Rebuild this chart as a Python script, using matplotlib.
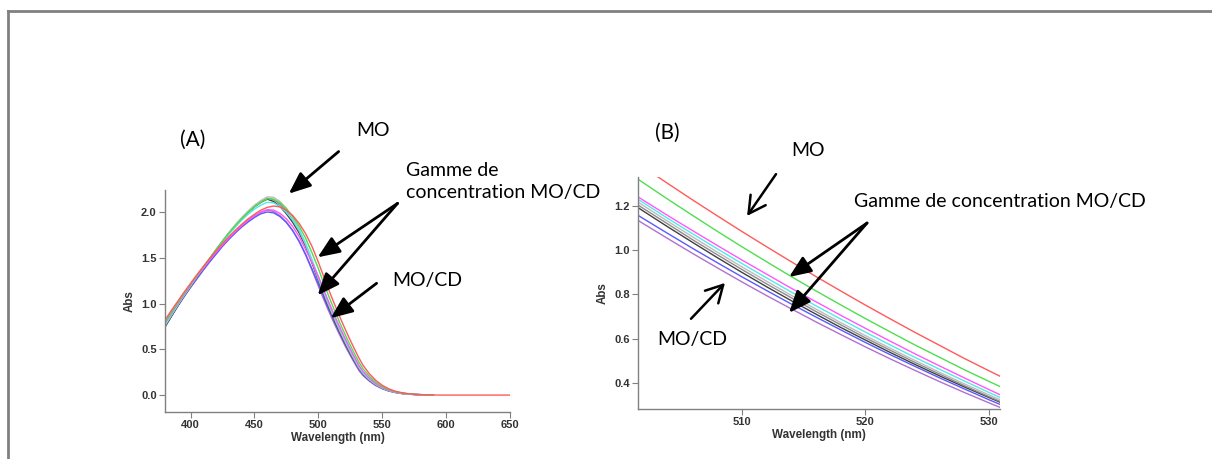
import matplotlib.pyplot as plt
from matplotlib.lines import Line2D

# wavelength grid (nm), shared by all spectra
wl = ([380, 385, 390, 395, 400, 405, 410, 415, 420, 425, 430, 435, 440, 445,
       450, 455, 460, 465, 470, 475, 480, 485, 490, 495, 500]
      + [502, 504, 506, 508, 510, 512, 514, 516, 518, 520, 522, 524, 526, 528,
         530, 532]
      + [535, 540, 545, 550, 555, 560, 565, 570, 575, 580, 585, 590])

# MO (red) was recorded further, flat zero after 590
red_tail_wl = [595, 600, 605, 610, 615, 620, 625, 630, 635, 640, 645, 650]
red_tail = [0.0] * 12

red = ([0.82, 0.925, 1.025, 1.125, 1.22, 1.315, 1.405, 1.49, 1.575, 1.655, 1.73,
        1.80, 1.865, 1.925, 1.975, 2.02, 2.05, 2.065, 2.055, 2.02, 1.96, 1.875,
        1.765, 1.625, 1.453]
       + [1.377, 1.302, 1.228, 1.156, 1.085, 1.016, 0.948, 0.881, 0.816, 0.752,
          0.690, 0.629, 0.570, 0.511, 0.455, 0.400]
       + [0.325, 0.232, 0.160, 0.107, 0.069, 0.043, 0.027, 0.016, 0.009, 0.005,
          0.003, 0.001])
green = ([0.80, 0.905, 1.01, 1.11, 1.21, 1.305, 1.40, 1.495, 1.59, 1.68, 1.77,
          1.85, 1.925, 1.995, 2.055, 2.105, 2.145, 2.14, 2.10, 2.035, 1.95, 1.845,
          1.715, 1.555, 1.383]
         + [1.306, 1.231, 1.158, 1.086, 1.016, 0.948, 0.881, 0.816, 0.753, 0.691,
            0.631, 0.572, 0.516, 0.460, 0.407, 0.355]
         + [0.287, 0.204, 0.140, 0.094, 0.061, 0.038, 0.024, 0.014, 0.008, 0.005,
            0.003, 0.001])
magenta = ([0.79, 0.895, 1.0, 1.10, 1.20, 1.295, 1.385, 1.475, 1.56, 1.64, 1.715,
            1.785, 1.85, 1.91, 1.96, 2.0, 2.025, 2.02, 1.985, 1.925, 1.84, 1.73,
            1.59, 1.45, 1.298]
           + [1.227, 1.157, 1.089, 1.022, 0.956, 0.892, 0.828, 0.767, 0.706, 0.647,
              0.589, 0.532, 0.477, 0.423, 0.370, 0.318]
           + [0.257, 0.182, 0.125, 0.084, 0.054, 0.034, 0.021, 0.013, 0.007, 0.004,
              0.002, 0.001])
cyan = ([0.77, 0.88, 0.99, 1.095, 1.195, 1.295, 1.39, 1.485, 1.58, 1.67, 1.755,
         1.835, 1.91, 1.975, 2.03, 2.075, 2.105, 2.10, 2.06, 1.995, 1.91, 1.80,
         1.66, 1.48, 1.288]
        + [1.216, 1.144, 1.075, 1.007, 0.940, 0.875, 0.811, 0.749, 0.689, 0.630,
           0.572, 0.516, 0.462, 0.409, 0.357, 0.307]
        + [0.248, 0.176, 0.121, 0.081, 0.052, 0.033, 0.020, 0.012, 0.007, 0.004,
           0.002, 0.001])
lightgray = ([0.76, 0.875, 0.985, 1.09, 1.195, 1.295, 1.395, 1.495, 1.59, 1.685,
              1.775, 1.86, 1.94, 2.01, 2.075, 2.125, 2.165, 2.16, 2.115, 2.04,
              1.94, 1.815, 1.65, 1.47, 1.277]
             + [1.203, 1.131, 1.061, 0.992, 0.925, 0.860, 0.796, 0.734, 0.673,
                0.614, 0.557, 0.502, 0.448, 0.396, 0.346, 0.297]
             + [0.239, 0.169, 0.116, 0.078, 0.050, 0.032, 0.019, 0.011, 0.007,
                0.004, 0.002, 0.001])
gray = ([0.755, 0.87, 0.98, 1.09, 1.19, 1.29, 1.39, 1.49, 1.585, 1.68, 1.77,
         1.855, 1.93, 2.0, 2.06, 2.11, 2.15, 2.135, 2.085, 2.01, 1.91, 1.79,
         1.64, 1.46, 1.264]
        + [1.190, 1.119, 1.048, 0.980, 0.913, 0.848, 0.785, 0.723, 0.663, 0.604,
           0.548, 0.493, 0.440, 0.388, 0.338, 0.290]
        + [0.233, 0.165, 0.113, 0.076, 0.049, 0.031, 0.019, 0.011, 0.007, 0.004,
           0.002, 0.001])
black = ([0.745, 0.86, 0.975, 1.085, 1.19, 1.29, 1.39, 1.49, 1.585, 1.68, 1.77,
          1.85, 1.925, 1.995, 2.055, 2.105, 2.14, 2.115, 2.06, 1.98, 1.885, 1.77,
          1.625, 1.445, 1.252]
         + [1.178, 1.106, 1.036, 0.967, 0.900, 0.835, 0.772, 0.711, 0.651, 0.594,
            0.538, 0.484, 0.432, 0.382, 0.334, 0.287]
         + [0.230, 0.163, 0.112, 0.075, 0.048, 0.031, 0.019, 0.011, 0.007, 0.004,
            0.002, 0.001])
blue = ([0.745, 0.86, 0.97, 1.075, 1.175, 1.27, 1.365, 1.455, 1.54, 1.625, 1.70,
         1.77, 1.835, 1.89, 1.94, 1.98, 2.0, 1.99, 1.95, 1.885, 1.795, 1.68,
         1.54, 1.38, 1.214]
        + [1.144, 1.076, 1.009, 0.944, 0.880, 0.818, 0.757, 0.698, 0.640, 0.583,
           0.528, 0.475, 0.423, 0.373, 0.324, 0.277]
        + [0.223, 0.158, 0.108, 0.072, 0.047, 0.030, 0.018, 0.011, 0.006, 0.004,
           0.002, 0.001])
purple = ([0.76, 0.87, 0.975, 1.08, 1.18, 1.275, 1.37, 1.46, 1.545, 1.63, 1.71,
           1.78, 1.845, 1.905, 1.955, 1.995, 2.02, 2.005, 1.96, 1.89, 1.795, 1.675,
           1.53, 1.365, 1.191]
          + [1.121, 1.053, 0.986, 0.921, 0.857, 0.795, 0.735, 0.676, 0.619, 0.563,
             0.509, 0.457, 0.406, 0.357, 0.310, 0.264]
          + [0.212, 0.151, 0.103, 0.069, 0.044, 0.028, 0.017, 0.010, 0.006, 0.003,
             0.002, 0.001])

series = [purple, blue, black, gray, lightgray, cyan, magenta, green, red]
colors = ['#b070d0', '#5a5aff', '#404040', '#8c8c8c', '#bdbdbd', '#50eaea',
          '#ff55ff', '#50dd50', '#ff5a5a']

ticks_a = [400, 450, 500, 550, 600, 650]
yticks_a = [0.0, 0.5, 1.0, 1.5, 2.0]
ticks_b = [510, 520, 530]
yticks_b = [0.4, 0.6, 0.8, 1.0, 1.2]

W, H = 1212, 459
fig = plt.figure(figsize=(W / 100, H / 100), dpi=100)
ann_font = 'Lato'
tick_font = 'Liberation Sans'

# gray frame at top and left
fig.add_artist(Line2D([8 / W, 1], [1 - 11 / H, 1 - 11 / H], color='#808080', lw=2))
fig.add_artist(Line2D([8 / W, 8 / W], [0, 1 - 11 / H], color='#808080', lw=2))


def style(ax):
    for s in ['top', 'right']:
        ax.spines[s].set_visible(False)
    for s in ['left', 'bottom']:
        ax.spines[s].set_color('#808080')
        ax.spines[s].set_linewidth(1.0)
    ax.tick_params(direction='out', length=4, width=0.8, color='#808080',
                   labelsize=8, labelcolor='#333333', pad=2)
    for lab in ax.get_xticklabels() + ax.get_yticklabels():
        lab.set_fontfamily(tick_font)
        lab.set_fontweight('bold')
    ax.set_xlabel('Wavelength (nm)', fontsize=8.4, fontweight='bold',
                  family=tick_font, color='#333333', labelpad=1)
    ax.set_ylabel('Abs', fontsize=8.4, fontweight='bold', family=tick_font,
                  color='#333333', labelpad=4)


# ---- (A) full spectra ----
axA = fig.add_axes([165 / W, 1 - 412 / H, (510 - 165) / W, (412 - 190) / H])
for y, c in zip(series[:-1], colors[:-1]):
    axA.plot(wl, y, color=c, lw=1)
axA.plot(wl + red_tail_wl, red + red_tail, color=colors[-1], lw=1)
axA.set_xlim(380, 650)
axA.set_ylim(-0.185, 2.24)
axA.set_xticks(ticks_a)
axA.set_yticks(yticks_a)
axA.set_yticklabels(['%.1f' % v for v in yticks_a])
style(axA)

arrA = dict(arrowstyle='-|>,head_length=0.6,head_width=0.25', color='black',
            lw=2.0, mutation_scale=22, shrinkA=0, shrinkB=0)
axA.text(401.9, 2.79, '(A)', fontsize=15, family=ann_font, ha='center',
         va='center', clip_on=False)
axA.text(542.5, 2.89, 'MO', fontsize=14, family=ann_font, ha='center',
         va='center', clip_on=False)
axA.annotate('', xy=(476.9, 2.20), xytext=(515.9, 2.66), arrowprops=arrA,
             annotation_clip=False)
axA.text(568.3, 2.33, 'Gamme de\nconcentration MO/CD', fontsize=14,
         family=ann_font, ha='left', va='center', linespacing=1.35,
         clip_on=False)
axA.annotate('', xy=(499.5, 1.505), xytext=(562.0, 2.094), arrowprops=arrA,
             annotation_clip=False)
axA.annotate('', xy=(499.5, 1.09), xytext=(562.0, 2.094), arrowprops=arrA,
             annotation_clip=False)
axA.text(558.1, 1.254, 'MO/CD', fontsize=14, family=ann_font, ha='left',
         va='center', clip_on=False)
axA.annotate('', xy=(509.7, 0.84), xytext=(545.6, 1.221), arrowprops=arrA,
             annotation_clip=False)

# ---- (B) zoom on 502-531 nm ----
axB = fig.add_axes([638 / W, 1 - 409 / H, (1000 - 638) / W, (409 - 177) / H])
for y, c in zip(series, colors):
    axB.plot(wl, y, color=c, lw=1)
axB.set_xlim(501.6, 530.9)
axB.set_ylim(0.282, 1.331)
axB.set_xticks(ticks_b)
axB.set_yticks(yticks_b)
axB.set_yticklabels(['%.1f' % v for v in yticks_b])
style(axB)

openA = dict(arrowstyle='->,head_length=0.55,head_width=0.3', color='black',
             lw=1.8, mutation_scale=22, shrinkA=0, shrinkB=0)
axB.text(503.95, 1.53, '(B)', fontsize=15, family=ann_font, ha='center',
         va='center', clip_on=False)
axB.text(515.4, 1.453, 'MO', fontsize=14, family=ann_font, ha='center',
         va='center', clip_on=False)
axB.annotate('', xy=(510.43, 1.155), xytext=(512.77, 1.344), arrowprops=openA,
             annotation_clip=False)
axB.text(519.09, 1.218, 'Gamme de concentration MO/CD', fontsize=14,
         family=ann_font, ha='left', va='center', clip_on=False)
axB.annotate('', xy=(513.83, 0.879), xytext=(520.14, 1.123), arrowprops=arrA,
             annotation_clip=False)
axB.annotate('', xy=(513.83, 0.717), xytext=(520.14, 1.123), arrowprops=arrA,
             annotation_clip=False)
axB.text(505.97, 0.595, 'MO/CD', fontsize=14, family=ann_font, ha='center',
         va='center', clip_on=False)
axB.annotate('', xy=(508.64, 0.852), xytext=(505.89, 0.69), arrowprops=openA,
             annotation_clip=False)

fig.savefig('out.png', dpi=100)
